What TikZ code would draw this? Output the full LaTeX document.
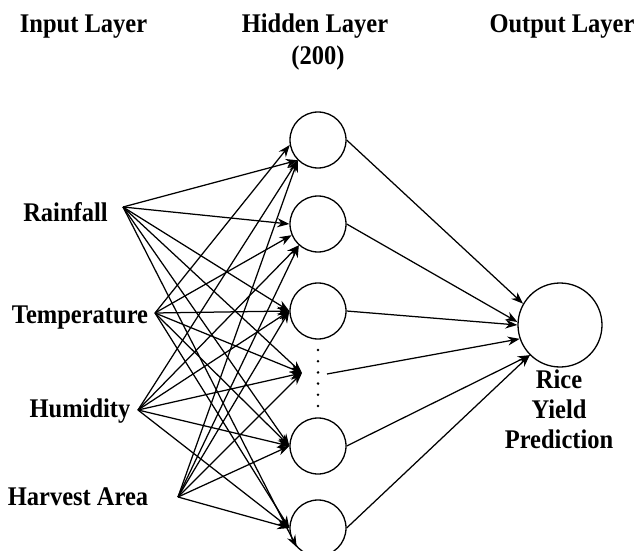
\documentclass[tikz,border=0pt]{standalone}
\usepackage{fontspec}
\setmainfont{Liberation Serif}
\usetikzlibrary{arrows.meta}
% slightly taller lettering for the labels
\newcommand\tallfont[1]{\scalebox{1}[1.1]{#1}}
\begin{document}
\begin{tikzpicture}[x=1pt,y=-1pt,
  lbl/.style={font=\fontsize{24.5}{30}\selectfont\bfseries, inner sep=0pt, anchor=base},
  neuron/.style={circle, draw, line width=1.3pt, minimum size=56pt, inner sep=0pt},
  outneuron/.style={circle, draw, line width=1.3pt, minimum size=84pt, inner sep=0pt},
  link/.style={line width=1.25pt, -{Stealth[length=12pt,width=9pt]}}]
\useasboundingbox (0,0) rectangle (638,551);
\clip (0,0) rectangle (638,551);

% layer titles
\node[lbl] (tin)  at (83.5,33) {\tallfont{Input Layer}};
\node[lbl] (thid) at (315,33) {\tallfont{Hidden Layer}};
\node[lbl] (tnum) at (318,65) {\tallfont{(200)}};
\node[lbl] (tout) at (562,33) {\tallfont{Output Layer}};

% input labels and the points their connectors leave from
\node[lbl] (lrain) at (65.5,221) {\tallfont{Rainfall}};
\node[lbl] (ltemp) at (80,323) {\tallfont{Temperature}};
\node[lbl] (lhum)  at (80,417) {\tallfont{Humidity}};
\node[lbl] (larea) at (78,505) {\tallfont{Harvest Area}};
\coordinate (rs) at (123,207);
\coordinate (ts) at (155,313);
\coordinate (us) at (138,410);
\coordinate (as) at (178,497);

% hidden layer
\node[neuron] (h1) at (318,140) {};
\node[neuron] (h2) at (318,224) {};
\node[neuron] (h3) at (318,311) {};
\node[neuron] (h4) at (318,446) {};
\node[neuron] (h5) at (318,528) {};
\node[minimum width=16pt, minimum height=60pt, inner sep=0pt] (hd) at (318,378) {};
\foreach \k in {0,...,5}
  \fill (318,{350+11.2*\k}) circle (1.4pt);
\coordinate (hdin)  at (302,373);
\coordinate (hdout) at (327,374);

% output layer
\node[outneuron] (out) at (560,325) {};
\node[lbl] (r1) at (559,388) {\tallfont{Rice}};
\node[lbl] (r2) at (559,418) {\tallfont{Yield}};
\node[lbl] (r3) at (559,448) {\tallfont{Prediction}};

% input -> hidden
\draw[link] (rs) -- (h1.225);
\draw[link] (rs) -- (h2.180);
\draw[link] (rs) -- (h3.180);
\draw[link] (rs) -- (hdin);
\draw[link] (rs) -- (h4.180);
\draw[link] (rs) -- (h5.222);

\draw[link] (ts) -- (h1.190);
\draw[link] (ts) -- (h2.203);
\draw[link] (ts) -- (h3.180);
\draw[link] (ts) -- (hdin);
\draw[link] (ts) -- (h4.180);
\draw[link] (ts) -- (h5.180);

\draw[link] (us) -- (h1.225);
\draw[link] (us) -- (h2.228);
\draw[link] (us) -- (h3.180);
\draw[link] (us) -- (hdin);
\draw[link] (us) -- (h4.180);
\draw[link] (us) -- (h5.180);

\draw[link] (as) -- (h1.225);
\draw[link] (as) -- (h2.228);
\draw[link] (as) -- (h3.180);
\draw[link] (as) -- (hdin);
\draw[link] (as) -- (h4.180);
\draw[link] (as) -- (h5.180);

% hidden -> output
\draw[link] (h1.east) -- (out.150);
\draw[link] (h2.east) -- (out.176);
\draw[link] (h3.east) -- (out.180);
\draw[link] (hdout) -- (out.199);
\draw[link] (h4.east) -- (out.225);
\draw[link] (h5.east) -- (out.225);
\end{tikzpicture}
\end{document}
